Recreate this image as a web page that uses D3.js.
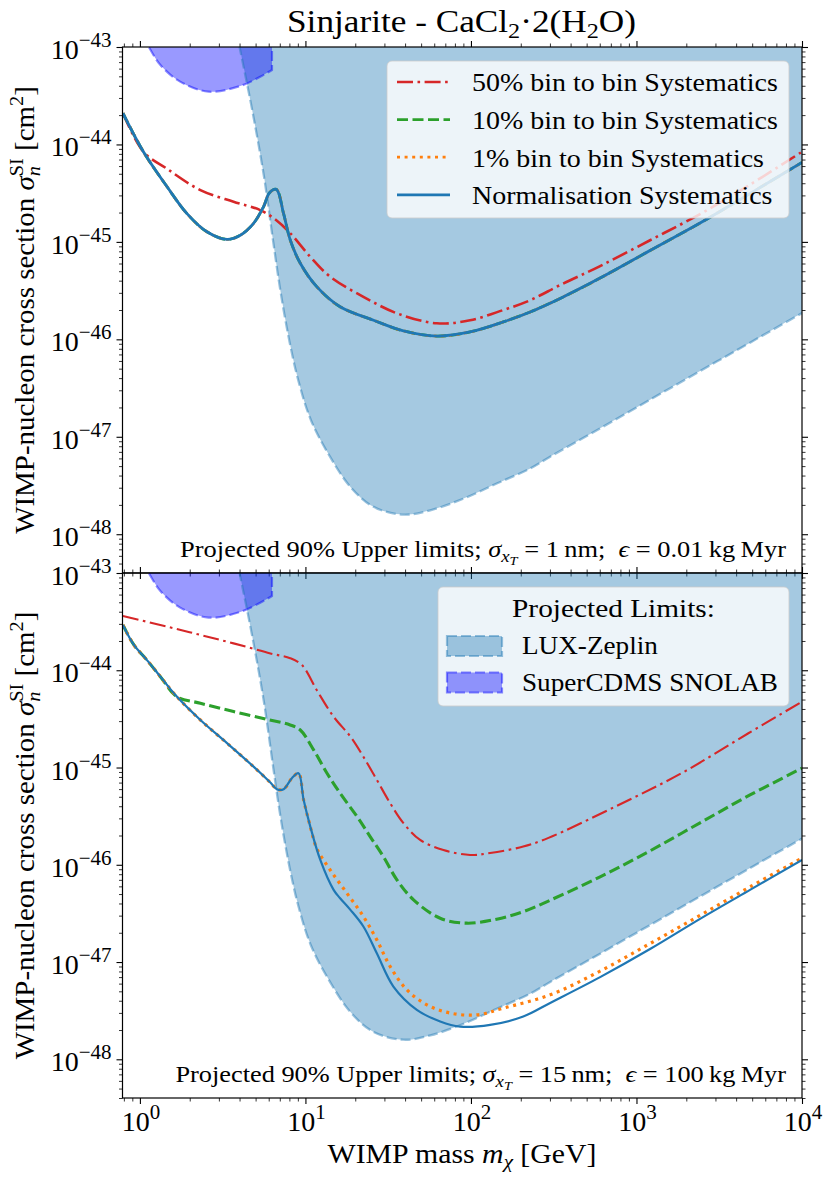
<!DOCTYPE html>
<html>
<head>
<meta charset="utf-8">
<script src="https://cdn.jsdelivr.net/npm/d3@7"></script>
<style>
  body { margin: 0; background: #fff; }
  svg { display: block; font-family: "Liberation Serif", "Times New Roman", serif; }
  text { white-space: pre; }
</style>
</head>
<body>
<div id="chart"></div>
<script>
// WIMP mass [GeV] and cross section [cm^2].

// LUX-Zeplin projected limit (lower edge of the shaded region)
const lzMass = [3.7, 4.0, 4.23, 4.77, 5.6, 6.39, 7.05, 7.98, 9.05, 10.8, 14.1, 18.7, 25.8, 39.1, 56.8, 90.2, 143, 228, 301, 603, 1208, 2421, 4853, 10000];
const lzSigma = [2.0e-43, 1.0e-43, 6.28e-44, 2.25e-44, 4.85e-45, 1.0e-45, 3.2e-46, 9.82e-47, 3.81e-47, 1.48e-47, 6.22e-48, 3.06e-48, 1.91e-48, 1.59e-48, 1.76e-48, 2.32e-48, 3.31e-48, 4.73e-48, 6.25e-48, 1.22e-47, 2.4e-47, 4.72e-47, 9.25e-47, 1.86e-46];

// SuperCDMS SNOLAB projected limit
const cdmsMass = [1.02, 1.13, 1.33, 1.75, 2.6, 4.04, 5.33, 6.28];
const cdmsSigma = [1.3e-43, 1.0e-43, 6.53e-44, 4.41e-44, 3.48e-44, 3.98e-44, 4.95e-44, 5.81e-44];

// top panel: 1 nm, 0.01 kg Myr
const topNormMass = [0.79, 1.05, 1.46, 1.92, 2.54, 3.36, 4.04, 4.86, 5.58, 6.07, 6.67, 7.38, 8.09, 9.31, 11.7, 16.2, 25.8, 39.1, 62.2, 98.8, 157, 228, 346, 603, 1208, 2421, 4853, 10000];
const topNormSigma = [2.09e-44, 8.41e-45, 3.68e-45, 1.96e-45, 1.27e-45, 1.06e-45, 1.17e-45, 1.55e-45, 2.29e-45, 3.19e-45, 3.46e-45, 1.95e-45, 1.05e-45, 6.03e-46, 3.47e-46, 2.16e-46, 1.57e-46, 1.22e-46, 1.08e-46, 1.19e-46, 1.51e-46, 1.91e-46, 2.63e-46, 4.25e-46, 8.15e-46, 1.56e-45, 3.13e-45, 6.55e-45];
const topBin50Mass = [0.79, 1.05, 1.46, 2.32, 3.68, 5.33, 6.67, 8.09, 10.7, 14.1, 22.4, 35.7, 62.2, 98.8, 157, 228, 346, 603, 1208, 2421, 4853, 10000];
const topBin50Sigma = [2.09e-44, 8.41e-45, 5.62e-45, 3.4e-45, 2.58e-45, 2.12e-45, 1.67e-45, 1.23e-45, 7.03e-46, 4.39e-46, 2.73e-46, 1.85e-46, 1.46e-46, 1.57e-46, 2.0e-46, 2.52e-46, 3.61e-46, 5.65e-46, 1.04e-45, 1.93e-45, 3.87e-45, 8.41e-45];
// 10% and 1% curves lie under the normalisation curve in this panel
const topBin10Mass = topNormMass, topBin10Sigma = topNormSigma;
const topBin1Mass = topNormMass, topBin1Sigma = topNormSigma;

// bottom panel: 15 nm, 100 kg Myr
const botNormMass = [0.79, 0.92, 1.1, 1.33, 1.67, 2.32, 3.36, 4.86, 6.14, 6.73, 7.38, 8.28, 9.08, 9.75, 10.7, 12.3, 14.8, 16.2, 18.7, 22.4, 27.0, 34.0, 47.1, 65.2, 86.1, 130.6, 207, 301, 603, 1208, 2421, 4853, 10000];
const botNormSigma = [2.92e-44, 1.82e-44, 1.28e-44, 8.59e-45, 5.36e-45, 3.08e-45, 1.78e-45, 1.02e-45, 7.0e-46, 5.98e-46, 5.98e-46, 7.76e-46, 8.73e-46, 4.65e-46, 2.47e-46, 1.12e-46, 5.52e-47, 4.53e-47, 3.44e-47, 2.32e-47, 1.23e-47, 5.6e-48, 3.23e-48, 2.45e-48, 2.17e-48, 2.26e-48, 2.75e-48, 3.8e-48, 7.0e-48, 1.36e-47, 2.78e-47, 5.52e-47, 1.12e-46];
const botBin1Mass = [0.79, 0.92, 1.1, 1.33, 1.67, 2.32, 3.36, 4.86, 6.14, 6.73, 7.38, 8.28, 9.08, 9.75, 10.7, 11.7, 14.1, 17.8, 22.4, 27.0, 32.5, 41.0, 54.2, 74.8, 108.6, 157, 301, 603, 1208, 2421, 4853, 10000];
const botBin1Sigma = [2.92e-44, 1.82e-44, 1.28e-44, 8.59e-45, 5.36e-45, 3.08e-45, 1.78e-45, 1.02e-45, 7.0e-46, 5.98e-46, 5.98e-46, 7.76e-46, 8.73e-46, 4.65e-46, 2.47e-46, 1.48e-46, 8.87e-47, 5.11e-47, 2.94e-47, 1.69e-47, 8.99e-48, 5.18e-48, 3.63e-48, 2.99e-48, 2.86e-48, 3.36e-48, 4.6e-48, 8.07e-48, 1.55e-47, 3.02e-47, 5.93e-47, 1.17e-46];
const botBin10Mass = [0.79, 0.92, 1.1, 1.33, 1.67, 2.32, 3.68, 5.86, 8.09, 9.31, 11.2, 13.5, 16.2, 20.5, 24.6, 29.6, 35.7, 45.0, 65.2, 94.4, 143, 207, 301, 603, 1208, 2421, 4853, 10000];
const botBin10Sigma = [2.92e-44, 1.82e-44, 1.28e-44, 8.59e-45, 5.36e-45, 4.58e-45, 3.76e-45, 3.13e-45, 2.74e-45, 2.43e-45, 1.52e-45, 8.73e-46, 5.44e-46, 3.13e-46, 1.95e-46, 1.21e-46, 7.0e-47, 4.36e-47, 2.82e-47, 2.51e-47, 2.76e-47, 3.3e-47, 4.32e-47, 7.52e-47, 1.39e-46, 2.7e-46, 5.22e-46, 9.84e-46];
const botBin50Mass = [0.79, 1.46, 2.32, 3.68, 6.14, 8.09, 9.53, 11.7, 14.8, 18.7, 22.4, 27.0, 32.5, 39.1, 49.3, 68.2, 98.8, 130.6, 207, 294, 743, 1879, 4742, 10000];
const botBin50Sigma = [3.61e-44, 2.81e-44, 2.31e-44, 1.89e-44, 1.49e-44, 1.33e-44, 1.13e-44, 6.27e-45, 3.33e-45, 2.08e-45, 1.29e-45, 7.46e-46, 4.3e-46, 2.68e-46, 1.8e-46, 1.42e-46, 1.26e-46, 1.32e-46, 1.54e-46, 1.89e-46, 3.96e-46, 8.77e-46, 2.25e-45, 4.75e-45];

const lineLabels = ["50% bin to bin Systematics", "10% bin to bin Systematics", "1% bin to bin Systematics", "Normalisation Systematics"];
const regionLabels = ["LUX-Zeplin", "SuperCDMS SNOLAB"];
const exposureLabels = [["1", "0.01"], ["15", "100"]]; // sigma_xT [nm], exposure [kg Myr]

const chart = (() => {
  const width = 830, height = 1186;
  const left = 122.5, right = 802;
  const x = d3.scaleLog().domain([0.785, 1e4]).range([left, right]);
  const yDomain = [4e-49, 1e-43];

  const pair = (ms, ss) => ms.map((m, i) => [m, ss[i]]);
  const isMajor = v => Math.abs(Math.log10(v) - Math.round(Math.log10(v))) < 1e-9;

  const styles = [
    { color: "#d62728", dash: "16,4.5,2.6,4.5" },
    { color: "#2ca02c", dash: "11,4.5" },
    { color: "#ff7f0e", dash: "3,4.6" },
    { color: "#1f77b4", dash: null }
  ];

  const panels = [
    { top: 47, bottom: 573, widths: [2.6, 2.8, 2.8, 2.8],
      series: [pair(topBin50Mass, topBin50Sigma), pair(topBin10Mass, topBin10Sigma), pair(topBin1Mass, topBin1Sigma), pair(topNormMass, topNormSigma)],
      exposure: exposureLabels[0], noteWidth: 606, xLabels: false },
    { top: 573, bottom: 1098, widths: [2.1, 3.1, 3.2, 2.2],
      series: [pair(botBin50Mass, botBin50Sigma), pair(botBin10Mass, botBin10Sigma), pair(botBin1Mass, botBin1Sigma), pair(botNormMass, botNormSigma)],
      exposure: exposureLabels[1], noteWidth: 611, xLabels: true }
  ];

  const svg = d3.select("#chart").append("svg")
    .attr("viewBox", [0, 0, width, height])
    .attr("width", width)
    .attr("height", height);
  const defs = svg.append("defs");

  // stretch a text horizontally so it spans the width seen in the figure
  function fitWidth(sel, target, ax) {
    const w = sel.node().getBBox().width;
    if (w > 0) sel.attr("transform", `translate(${ax},0) scale(${target / w},1) translate(${-ax},0)`);
  }

  function addText(parent, tx, ty, anchor, size, parts) {
    const t = parent.append("text")
      .attr("x", tx).attr("y", ty)
      .attr("text-anchor", anchor)
      .attr("font-size", size)
      .attr("fill", "#000");
    parts.forEach(p => {
      const s = t.append("tspan").text(p.t);
      if (p.size) s.attr("font-size", p.size);
      if (p.it) s.attr("font-style", "italic");
      if (p.dy) s.attr("dy", p.dy);
      if (p.dx) s.attr("dx", p.dx);
      if (p.cls) s.attr("class", p.cls);
    });
    return t;
  }

  const ticks = x.ticks();
  const xMajor = ticks.filter(isMajor), xMinor = ticks.filter(v => !isMajor(v));

  panels.forEach((p, pi) => {
    const y = d3.scaleLog().domain(yDomain).range([p.bottom, p.top]);
    const yt = y.ticks();
    const yMajor = yt.filter(isMajor), yMinor = yt.filter(v => !isMajor(v));

    defs.append("clipPath").attr("id", `clip${pi}`)
      .append("rect").attr("x", left).attr("y", p.top)
      .attr("width", right - left).attr("height", p.bottom - p.top);

    const plot = svg.append("g").attr("clip-path", `url(#clip${pi})`);
    const curve = d3.curveCatmullRom.alpha(0.5);
    const line = d3.line().x(d => x(d[0])).y(d => y(d[1])).curve(curve);
    const area = d3.area().x(d => x(d[0])).y0(p.top - 60).y1(d => y(d[1])).curve(curve);

    const lz = pair(lzMass, lzSigma);
    const cdms = pair(cdmsMass, cdmsSigma);

    plot.append("path").attr("d", area(lz))
      .attr("fill", "#1f77b4").attr("fill-opacity", 0.4);
    plot.append("path").attr("d", area(cdms))
      .attr("fill", "#0000ff").attr("fill-opacity", 0.4);
    plot.append("path").attr("d", line(lz))
      .attr("fill", "none").attr("stroke", "#1f77b4").attr("stroke-opacity", 0.45)
      .attr("stroke-width", 2.3).attr("stroke-dasharray", "10,4");
    const last = cdms[cdms.length - 1];
    plot.append("path").attr("d", line(cdms) + `L${x(last[0])},${p.top - 60}`)
      .attr("fill", "none").attr("stroke", "#0000ff").attr("stroke-opacity", 0.45)
      .attr("stroke-width", 2.2).attr("stroke-dasharray", "10,4");

    p.series.forEach((s, i) => {
      plot.append("path").attr("d", line(s))
        .attr("fill", "none")
        .attr("stroke", styles[i].color)
        .attr("stroke-width", p.widths[i])
        .attr("stroke-dasharray", styles[i].dash)
        .attr("stroke-linejoin", "round");
    });

    // ticks on all four sides, pointing out
    const axes = svg.append("g");
    const addAxis = (axis, tr, sw) => axes.append("g").attr("transform", tr).call(axis)
      .call(g => g.select(".domain").remove())
      .call(g => g.selectAll("line").attr("stroke-width", sw));
    [[yMajor, 6, 1.1], [yMinor, 3.5, 0.8]].forEach(([vals, size, sw]) => {
      addAxis(d3.axisLeft(y).tickValues(vals).tickSize(size).tickFormat(""), `translate(${left},0)`, sw);
      addAxis(d3.axisRight(y).tickValues(vals).tickSize(size).tickFormat(""), `translate(${right},0)`, sw);
    });
    [[xMajor, 6, 1.1], [xMinor, 3.5, 0.8]].forEach(([vals, size, sw]) => {
      addAxis(d3.axisTop(x).tickValues(vals).tickSize(size).tickFormat(""), `translate(0,${p.top})`, sw);
      addAxis(d3.axisBottom(x).tickValues(vals).tickSize(size).tickFormat(""), `translate(0,${p.bottom})`, sw);
    });

    axes.append("rect")
      .attr("x", left).attr("y", p.top)
      .attr("width", right - left).attr("height", p.bottom - p.top)
      .attr("fill", "none").attr("stroke", "#000").attr("stroke-width", 1.2);

    // y tick labels
    yMajor.forEach(v => {
      const e = Math.round(Math.log10(v));
      addText(axes, left - 11, y(v) + 12, "end", 28, [
        { t: "10" },
        { t: "\u2212" + Math.abs(e), size: 21, dy: -12 }
      ]);
    });

    if (p.xLabels) {
      xMajor.forEach(v => {
        const e = Math.round(Math.log10(v));
        addText(axes, x(v) + 1, p.bottom + 33, "middle", 28, [
          { t: "10" },
          { t: String(e), size: 21, dy: -12 }
        ]);
      });
    }

    // y axis label
    const yl = axes.append("g").attr("transform", `translate(34,${(p.top + p.bottom) / 2}) rotate(-90)`);
    const ylt = addText(yl, 0, 0, "middle", 27, [
      { t: "WIMP-nucleon cross section " },
      { t: "\u03c3", it: true },
      { t: "SI", size: 19, dy: -11, cls: "sup" },
      { t: "n", size: 19, it: true, dy: 17, cls: "sub" },
      { t: " [cm", dy: -6, cls: "after" },
      { t: "2", size: 19, dy: -11 },
      { t: "]", dy: 11 }
    ]);
    const wSup = ylt.select(".sup").node().getComputedTextLength();
    const wSub = ylt.select(".sub").node().getComputedTextLength();
    ylt.select(".sub").attr("dx", -wSup);
    ylt.select(".after").attr("dx", wSup - wSub);
    fitWidth(ylt, 448, 0);

    // exposure note
    const note = addText(axes, 786, p.bottom - 16, "end", 24, [
      { t: "Projected 90% Upper limits; " },
      { t: "\u03c3", it: true },
      { t: "x", it: true, size: 17, dy: 5 },
      { t: "T", it: true, size: 13, dy: 3 },
      { t: " = " + p.exposure[0] + "\u2009nm;  ", dy: -8 },
      { t: "\u03f5", it: true },
      { t: " = " + p.exposure[1] + "\u2009kg\u2009Myr" }
    ]);
    fitWidth(note, p.noteWidth, 786);
  });

  // top legend: line styles
  const lg1 = svg.append("g");
  lg1.append("rect").attr("x", 387).attr("y", 61).attr("width", 402).attr("height", 157).attr("rx", 5)
    .attr("fill", "#fff").attr("fill-opacity", 0.8)
    .attr("stroke", "#ccc").attr("stroke-opacity", 0.8);
  const t1 = lineLabels.map((lab, i) => {
    const cy = 82 + i * 37.6;
    lg1.append("line").attr("x1", 397).attr("x2", 450).attr("y1", cy).attr("y2", cy)
      .attr("stroke", styles[i].color).attr("stroke-width", panels[0].widths[i])
      .attr("stroke-dasharray", styles[i].dash);
    return addText(lg1, 472, cy + 9.5, "start", 25, [{ t: lab }]);
  });
  const k1 = 306 / t1[0].node().getBBox().width;
  t1.forEach(t => t.attr("transform", `translate(472,0) scale(${k1},1) translate(-472,0)`));

  // bottom legend: projected limits
  const lg2 = svg.append("g");
  lg2.append("rect").attr("x", 438).attr("y", 587).attr("width", 351).attr("height", 119).attr("rx", 5)
    .attr("fill", "#fff").attr("fill-opacity", 0.8)
    .attr("stroke", "#ccc").attr("stroke-opacity", 0.8);
  const title2 = addText(lg2, 613.5, 617, "middle", 25, [{ t: "Projected Limits:" }]);
  const fills = ["#1f77b4", "#0000ff"];
  const t2 = regionLabels.map((lab, i) => {
    const cy = 646 + i * 36.5;
    lg2.append("rect").attr("x", 447).attr("y", cy - 10).attr("width", 55).attr("height", 20)
      .attr("fill", fills[i]).attr("fill-opacity", 0.4)
      .attr("stroke", fills[i]).attr("stroke-opacity", 0.45).attr("stroke-width", 2.2)
      .attr("stroke-dasharray", "10,4");
    return addText(lg2, 522, cy + 8.5, "start", 25, [{ t: lab }]);
  });
  const k2 = 256 / t2[1].node().getBBox().width;
  t2.forEach(t => t.attr("transform", `translate(522,0) scale(${k2},1) translate(-522,0)`));
  fitWidth(title2, 203, 613.5);

  // x axis label
  const xl = addText(svg, 462, 1163, "middle", 27, [
    { t: "WIMP mass " },
    { t: "m", it: true },
    { t: "\u03c7", it: true, size: 19, dy: 5 },
    { t: " [GeV]", dy: -5 }
  ]);
  fitWidth(xl, 269, 462);

  // title
  const title = addText(svg, 461.5, 32, "middle", 32, [
    { t: "Sinjarite - CaCl" },
    { t: "2", size: 22, dy: 6 },
    { t: "\u00b72(H", dy: -6 },
    { t: "2", size: 22, dy: 6 },
    { t: "O)", dy: -6 }
  ]);
  fitWidth(title, 349, 461.5);

  return svg.node();
})();
</script>
</body>
</html>
